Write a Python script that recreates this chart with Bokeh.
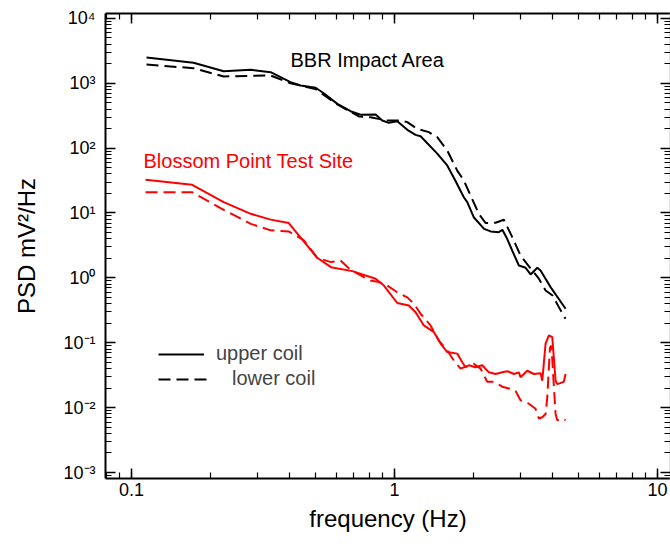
from bokeh.plotting import figure
from bokeh.models import LogAxis, LogTicker, Label, Legend, LegendItem, CustomJSTickFormatter
from bokeh.embed import file_html
from bokeh.resources import INLINE

FONT = "Liberation Sans"

# BBR Impact Area (black)
bbr_upper_f = [0.114, 0.172, 0.224, 0.284, 0.338, 0.402, 0.439, 0.501, 0.538, 0.606, 0.680, 0.743,
               0.847, 0.898, 0.951, 1.024, 1.118, 1.202, 1.256, 1.453, 1.586, 1.70, 1.834, 1.89,
               2.00, 2.19, 2.32, 2.49, 2.57, 2.68, 2.80, 2.97, 3.15, 3.29, 3.49, 3.59, 3.92, 4.47]
bbr_upper_psd = [2490, 2060, 1530, 1610, 1480, 1040, 920, 850, 700, 480, 370, 326,
                 330, 266, 245, 260, 191, 160, 152, 82, 54, 32, 17.5, 14.7,
                 8.6, 5.7, 5.2, 5.06, 5.5, 4.0, 2.64, 1.55, 1.43, 1.13, 1.43, 1.30, 0.72, 0.334]

bbr_lower_f = [0.114, 0.172, 0.224, 0.338, 0.402, 0.50, 0.606, 0.732, 0.810, 0.932, 1.054, 1.118,
               1.220, 1.350, 1.453, 1.586, 1.731, 1.834, 1.945, 2.092, 2.218, 2.421, 2.604, 2.803,
               3.013, 3.289, 3.538, 3.752, 3.989, 4.215, 4.469]
bbr_lower_psd = [1940, 1700, 1270, 1315, 1000, 814, 470, 307, 299, 266, 266, 251,
                 198, 176, 147, 92, 45, 31.7, 18.6, 9.7, 7.0, 7.06, 7.86, 4.24,
                 2.21, 1.40, 0.97, 0.64, 0.535, 0.354, 0.234]

# Blossom Point Test Site (red)
bp_upper_f = [0.113, 0.170, 0.224, 0.284, 0.338, 0.396, 0.508, 0.573, 0.691, 0.847, 0.911, 1.024,
              1.133, 1.202, 1.292, 1.411, 1.496, 1.586, 1.731, 1.809, 1.862, 1.917, 2.032, 2.155,
              2.284, 2.421, 2.568, 2.683, 2.842, 2.969, 3.013, 3.196, 3.387, 3.591, 3.645, 3.752,
              3.862, 3.978, 4.095, 4.156, 4.402, 4.469]
bp_upper_psd = [32.5, 27.2, 14.7, 9.7, 7.9, 7.0, 2.04, 1.46, 1.27, 0.97, 0.76, 0.41,
                0.376, 0.296, 0.185, 0.146, 0.097, 0.072, 0.068, 0.050, 0.042, 0.045, 0.042, 0.045,
                0.035, 0.033, 0.035, 0.0365, 0.033, 0.035, 0.0295, 0.037, 0.033, 0.034, 0.026, 0.097,
                0.130, 0.122, 0.026, 0.023, 0.025, 0.033]

bp_lower_f = [0.113, 0.170, 0.224, 0.284, 0.338, 0.396, 0.452, 0.508, 0.573, 0.623, 0.680, 0.764,
              0.810, 0.872, 0.938, 1.024, 1.118, 1.184, 1.256, 1.370, 1.474, 1.586, 1.681, 1.782,
              2.002, 2.123, 2.251, 2.386, 2.568, 2.761, 2.885, 3.013, 3.241, 3.437, 3.538, 3.645,
              3.752, 3.808, 3.90, 3.95, 4.035, 4.095, 4.156, 4.341, 4.469]
bp_lower_psd = [20.9, 20.9, 11.2, 6.8, 5.4, 5.2, 3.8, 2.04, 1.75, 1.85, 1.33, 1.03,
                0.91, 0.86, 0.76, 0.60, 0.50, 0.40, 0.28, 0.185, 0.108, 0.076, 0.053, 0.040,
                0.0475, 0.040, 0.025, 0.025, 0.021, 0.0195, 0.018, 0.013, 0.0115, 0.0096, 0.0068, 0.0071,
                0.008, 0.0145, 0.085, 0.09, 0.021, 0.008, 0.0064, 0.0068, 0.0064]

p = figure(width=670, height=544, x_axis_type="log", y_axis_type="log",
           x_range=(0.0796, 11.2), y_range=(0.000809, 11860),
           output_backend="svg", toolbar_location=None,
           min_border_left=105, min_border_right=0, min_border_top=13, min_border_bottom=66)
p.xgrid.visible = False
p.ygrid.visible = False
p.outline_line_color = None
p.background_fill_color = "white"

sup_js = """
const s = {"0":"\u2070","1":"\u00b9","2":"\u00b2","3":"\u00b3","4":"\u2074","5":"\u2075",
           "6":"\u2076","7":"\u2077","8":"\u2078","9":"\u2079","-":"\u207b"};
const e = Math.round(Math.log10(tick));
return "10" + String(e).split("").map(c => s[c]).join("");
"""

p.add_layout(LogAxis(), "above")
p.add_layout(LogAxis(), "right")

bottom = p.below[0]
left = p.left[0]
bottom.formatter = CustomJSTickFormatter(code="return tick < 1 ? tick.toFixed(1) : tick.toFixed(0);")
left.formatter = CustomJSTickFormatter(code=sup_js)

for ax in p.axis:
    ax.ticker = LogTicker(num_minor_ticks=10)
    ax.axis_line_width = 2
    ax.axis_line_color = "black"
    ax.major_tick_in = 10
    ax.major_tick_out = 0
    ax.minor_tick_in = 6
    ax.minor_tick_out = 0
    ax.major_tick_line_width = 1.5
    ax.minor_tick_line_width = 1.2
    ax.major_label_text_font = FONT
    ax.major_label_text_font_size = "18px"
    ax.major_label_text_color = "black"
    ax.axis_label_text_font = FONT
    ax.axis_label_text_font_size = "24px"
    ax.axis_label_text_font_style = "normal"
    ax.axis_label_text_color = "black"

for ax in (p.above[0], p.right[0]):
    ax.major_label_text_font_size = "1px"
    ax.major_label_text_alpha = 0
    ax.major_label_standoff = 0
p.right[0].axis_line_color = "#c8c8c8"

bottom.axis_label = "frequency (Hz)"
bottom.major_label_standoff = 4
bottom.axis_label_standoff = 6
left.axis_label = "PSD mV\u00b2/Hz"
left.major_label_standoff = 10
left.axis_label_standoff = 20

r_up = p.line(bbr_upper_f, bbr_upper_psd, line_color="black", line_width=2)
r_lo = p.line(bbr_lower_f, bbr_lower_psd, line_color="black", line_width=2, line_dash="12 6")
p.line(bp_upper_f, bp_upper_psd, line_color="red", line_width=2)
p.line(bp_lower_f, bp_lower_psd, line_color="red", line_width=2, line_dash="12 6")

p.add_layout(Label(x=0.402, y=2240, text="BBR Impact Area", text_baseline="middle",
                   text_font=FONT, text_font_size="20px", text_color="black"))
p.add_layout(Label(x=0.111, y=64, text="Blossom Point Test Site", text_baseline="middle",
                   text_font=FONT, text_font_size="20px", text_color="red"))

legend_style = dict(padding=0, margin=0, glyph_height=22, label_height=22,
                    label_text_font=FONT, label_text_font_size="20px",
                    border_line_color=None, background_fill_alpha=0)
p.add_layout(Legend(items=[LegendItem(label="upper coil", renderers=[r_up])],
                    location=(53, 113), glyph_width=46, label_standoff=12, **legend_style), "center")
p.add_layout(Legend(items=[LegendItem(label="lower coil", renderers=[r_lo])],
                    location=(53, 88), glyph_width=54, label_standoff=20, **legend_style), "center")

open("out.html", "w").write(file_html(p, INLINE))
